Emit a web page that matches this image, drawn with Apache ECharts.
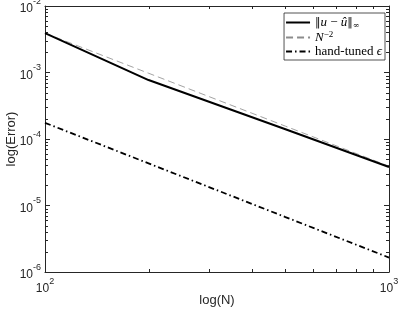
<!DOCTYPE html>
<html>
<head>
<meta charset="utf-8">
<script src="https://cdn.jsdelivr.net/npm/echarts@6/dist/echarts.min.js"></script>
<style>
html,body{margin:0;padding:0;background:#fff;}
#c{width:399px;height:315px;}
</style>
</head>
<body>
<div id="c"></div>
<script>
// ---- data ----
const N = [100, 200, 500, 1000];
const errInf = [3.9e-3, 7.7e-4, 1.4e-4, 3.8e-5];
const nRef = [3.9e-3, 9.75e-4, 1.56e-4, 3.9e-5];
const handTuned = [1.75e-4, 4.3e-5, 6.7e-6, 1.65e-6];
const xRange = [100, 1000];
const yRange = [1e-6, 1e-2];
const seriesNames = ['‖u − û‖∞', 'N^-2', 'hand-tuned ε'];
const xLabel = 'log(N)';
const yLabel = 'log(Error)';

// minor tick positions (log decades, mantissas 2..9)
const mant = [2,3,4,5,6,7,8,9];
const xMinor = mant.map(m => m * 100);
const yMinor = [];
for (let e = -6; e < -2; e++) mant.forEach(m => yMinor.push(m * Math.pow(10, e)));

const zip = (a, b) => a.map((v, i) => [v, b[i]]);
const axisColor = '#262626';
const font = '"Liberation Sans", Arial, sans-serif';
const serif = '"Liberation Serif", "DejaVu Serif", serif';
const symSerif = '"DejaVu Serif", serif';

const supFmt = v => '{b|10}{s|' + Math.round(Math.log10(v)) + '}';
const labelRich = {
  b: {fontSize: 12, fontFamily: font, color: axisColor, lineHeight: 18, verticalAlign: 'bottom'},
  s: {fontSize: 9, fontFamily: font, color: axisColor, lineHeight: 18, verticalAlign: 'top'}
};

const commonAxis = {
  type: 'log', logBase: 10,
  axisLine: {show: true, lineStyle: {color: axisColor, width: 1}},
  axisTick: {show: true, inside: true, length: 5, lineStyle: {color: axisColor, width: 1}},
  splitLine: {show: false},
  minorTick: {show: false}
};

const chart = echarts.init(document.getElementById('c'), null, {renderer: 'canvas'});

const legendFmt = {};
legendFmt[seriesNames[0]] = '{d|‖}{i|u}{n| − }{i|û}{d|‖}{sb|∞}';
legendFmt[seriesNames[1]] = '{i|N}{sp|−2}';
legendFmt[seriesNames[2]] = '{n|hand-tuned }{i|ϵ}';

chart.setOption({
  animation: false,
  backgroundColor: '#fff',
  grid: {left: 45, right: 10, top: 6, bottom: 43, containLabel: false, outerBoundsMode: 'none'},
  xAxis: [
    Object.assign({}, commonAxis, {
      position: 'bottom', min: xRange[0], max: xRange[1],
      axisLabel: {formatter: supFmt, rich: labelRich, margin: 5},
      name: xLabel, nameLocation: 'middle', nameGap: 22, nameMoveOverlap: false,
      nameTextStyle: {fontFamily: font, fontSize: 13, color: axisColor}
    }),
    Object.assign({}, commonAxis, {
      position: 'top', min: xRange[0], max: xRange[1],
      axisLabel: {show: false}
    })
  ],
  yAxis: [
    Object.assign({}, commonAxis, {
      position: 'left', min: yRange[0], max: yRange[1],
      axisLabel: {formatter: supFmt, rich: labelRich, margin: 4},
      name: yLabel, nameLocation: 'middle', nameGap: 27, nameRotate: 90, nameMoveOverlap: false,
      nameTextStyle: {fontFamily: font, fontSize: 13, color: axisColor}
    }),
    Object.assign({}, commonAxis, {
      position: 'right', min: yRange[0], max: yRange[1],
      axisLabel: {show: false}
    })
  ],
  legend: {
    orient: 'vertical', right: 14, top: 13,
    data: seriesNames,
    itemWidth: 24, itemHeight: 10, itemGap: 1,
    padding: [3, 3, 2, 1],
    borderColor: axisColor, borderWidth: 0.8, backgroundColor: '#fff',
    itemStyle: {opacity: 0},
    formatter: name => legendFmt[name],
    textStyle: {
      fontFamily: serif, fontSize: 13, color: '#000',
      rich: {
        n: {fontFamily: serif, fontSize: 13, lineHeight: 14},
        d: {fontFamily: symSerif, fontSize: 11, lineHeight: 14},
        i: {fontFamily: serif, fontSize: 13, fontStyle: 'italic', lineHeight: 14},
        sb: {fontFamily: symSerif, fontSize: 8, verticalAlign: 'bottom', lineHeight: 14},
        sp: {fontFamily: serif, fontSize: 9, verticalAlign: 'top', lineHeight: 14}
      }
    }
  },
  series: [
    {
      name: seriesNames[1], type: 'line', data: zip(N, nRef),
      symbol: 'none', z: 2,
      lineStyle: {color: '#8c8c8c', width: 0.8, type: [7, 4]},
      itemStyle: {color: '#8c8c8c'}
    },
    {
      name: seriesNames[0], type: 'line', data: zip(N, errInf),
      symbol: 'none', z: 3,
      lineStyle: {color: '#000', width: 2},
      itemStyle: {color: '#000'}
    },
    {
      name: seriesNames[2], type: 'line', data: zip(N, handTuned),
      symbol: 'none', z: 3,
      lineStyle: {color: '#000', width: 1.8, type: [6, 3, 1.5, 3]},
      itemStyle: {color: '#000'}
    },
    {
      type: 'custom', silent: true, z: 1,
      data: [[xRange[0], yRange[0]]],
      renderItem: function (params, api) {
        const children = [];
        const st = {stroke: axisColor, lineWidth: 1};
        const L = 3;
        xMinor.forEach(v => {
          const b = api.coord([v, yRange[0]]);
          const t = api.coord([v, yRange[1]]);
          const x = Math.round(b[0]) + 0.5;
          children.push({type: 'line', shape: {x1: x, y1: b[1], x2: x, y2: b[1] - L}, style: st});
          children.push({type: 'line', shape: {x1: x, y1: t[1], x2: x, y2: t[1] + L}, style: st});
        });
        yMinor.forEach(v => {
          const l = api.coord([xRange[0], v]);
          const r = api.coord([xRange[1], v]);
          const y = Math.round(l[1]) + 0.5;
          children.push({type: 'line', shape: {x1: l[0], y1: y, x2: l[0] + L, y2: y}, style: st});
          children.push({type: 'line', shape: {x1: r[0], y1: y, x2: r[0] - L, y2: y}, style: st});
        });
        return {type: 'group', children: children};
      }
    }
  ]
});
</script>
</body>
</html>
